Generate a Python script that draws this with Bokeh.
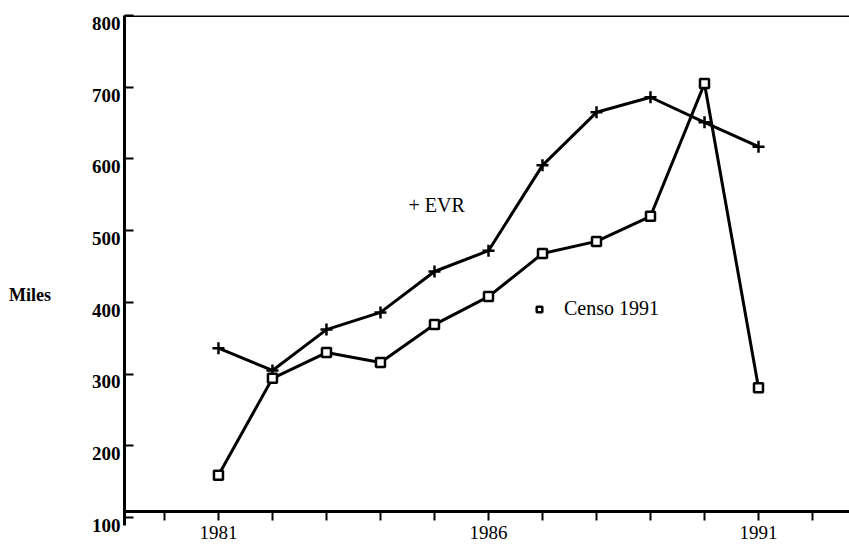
from bokeh.plotting import figure
from bokeh.models import (Range1d, FixedTicker, LinearAxis, Label, Span,
                          Legend, LegendItem)
from bokeh.embed import file_html
from bokeh.resources import INLINE

# ---- data ----
years = [1981, 1982, 1983, 1984, 1985, 1986, 1987, 1988, 1989, 1990, 1991]
evr = [336, 305, 362, 386, 443, 472, 591, 665, 686, 651, 617]
censo = [159, 294, 330, 316, 369, 408, 468, 485, 520, 705, 281]
y_ticks = [100, 200, 300, 400, 500, 600, 700, 800]
x_major = [1981, 1986, 1991]
x_minor = list(range(1980, 1993))

FONT = "Liberation Serif"
X0, X1 = 1979.26, 1992.685
Y0, Y1 = 88.8, 800

p = figure(width=849, height=547, output_backend="svg", toolbar_location=None,
           title=None,
           x_range=Range1d(X0, X1), y_range=Range1d(Y0, Y1),
           x_axis_type=None, y_axis_type=None,
           min_border_left=124, min_border_right=0,
           min_border_top=15, min_border_bottom=22)
p.outline_line_color = None
p.background_fill_color = "white"
p.border_fill_color = "white"
# labels of the value axis sit a little below their ticks in the original
p.extra_y_ranges = {"labels": Range1d(Y0 + 11, Y1 + 11)}

# x axis line and ticks (crosses the y axis a little above 100)
xaxis = LinearAxis(ticker=FixedTicker(ticks=[], minor_ticks=x_minor),
                   fixed_location=108.3)
xaxis.axis_line_width = 3
xaxis.major_tick_in = 0
xaxis.major_tick_out = 0
xaxis.minor_tick_in = 0
xaxis.minor_tick_out = 9
xaxis.minor_tick_line_width = 2
xaxis.major_label_standoff = 0
p.add_layout(xaxis, "below")

# x tick labels
xlab = LinearAxis(ticker=FixedTicker(ticks=x_major))
xlab.axis_line_color = None
xlab.major_tick_line_color = None
xlab.minor_tick_line_color = None
xlab.major_tick_out = 0
xlab.minor_tick_out = 0
xlab.major_label_text_font = FONT
xlab.major_label_text_font_size = "19px"
xlab.major_label_text_color = "black"
xlab.major_label_standoff = 0
p.add_layout(xlab, "below")

# y axis: line and ticks
yaxis = LinearAxis(ticker=FixedTicker(ticks=[], minor_ticks=y_ticks))
yaxis.axis_line_width = 3
yaxis.major_tick_in = 0
yaxis.major_tick_out = 0
yaxis.minor_tick_in = 9
yaxis.minor_tick_out = 0
yaxis.minor_tick_line_width = 2
yaxis.major_label_standoff = 0
p.add_layout(yaxis, "left")

# y axis: tick labels and the "Miles" title
ylab = LinearAxis(ticker=FixedTicker(ticks=y_ticks), y_range_name="labels")
ylab.axis_line_color = None
ylab.major_tick_line_color = None
ylab.minor_tick_line_color = None
ylab.major_tick_out = 0
ylab.minor_tick_out = 0
ylab.major_label_text_font = FONT
ylab.major_label_text_font_size = "19px"
ylab.major_label_text_font_style = "bold"
ylab.major_label_text_color = "black"
ylab.major_label_standoff = 4
ylab.axis_label = "\n\nMiles"
ylab.axis_label_orientation = "horizontal"
ylab.axis_label_text_font = FONT
ylab.axis_label_text_font_size = "18px"
ylab.axis_label_text_font_style = "bold"
ylab.axis_label_text_color = "black"
ylab.axis_label_standoff = 38
p.add_layout(ylab, "left")

# top border line
p.add_layout(Span(location=Y1, dimension="width", line_color="black",
                  line_width=3))

# series
p.line(years, evr, line_color="black", line_width=3)
p.scatter(years, evr, marker="cross", size=12, line_color="black",
          line_width=2.5)
p.line(years, censo, line_color="black", line_width=3)
censo_pts = p.scatter(years, censo, marker="square", size=9,
                      line_color="black", line_width=2.5, fill_color="white")

# in-plot labels
p.add_layout(Label(x=1984.52, y=536, text="+ EVR", text_font=FONT,
                   text_font_size="20px", text_baseline="middle",
                   text_color="black"))

legend = Legend(items=[LegendItem(label="Censo 1991", renderers=[censo_pts])],
                location=(408, 205), padding=0, margin=0, spacing=0,
                glyph_width=14, glyph_height=20, label_height=20,
                label_standoff=18, border_line_color=None,
                background_fill_alpha=0, label_text_color="black",
                label_text_font=FONT, label_text_font_size="20px")
p.add_layout(legend)

open("out.html", "w").write(file_html(p, INLINE))
